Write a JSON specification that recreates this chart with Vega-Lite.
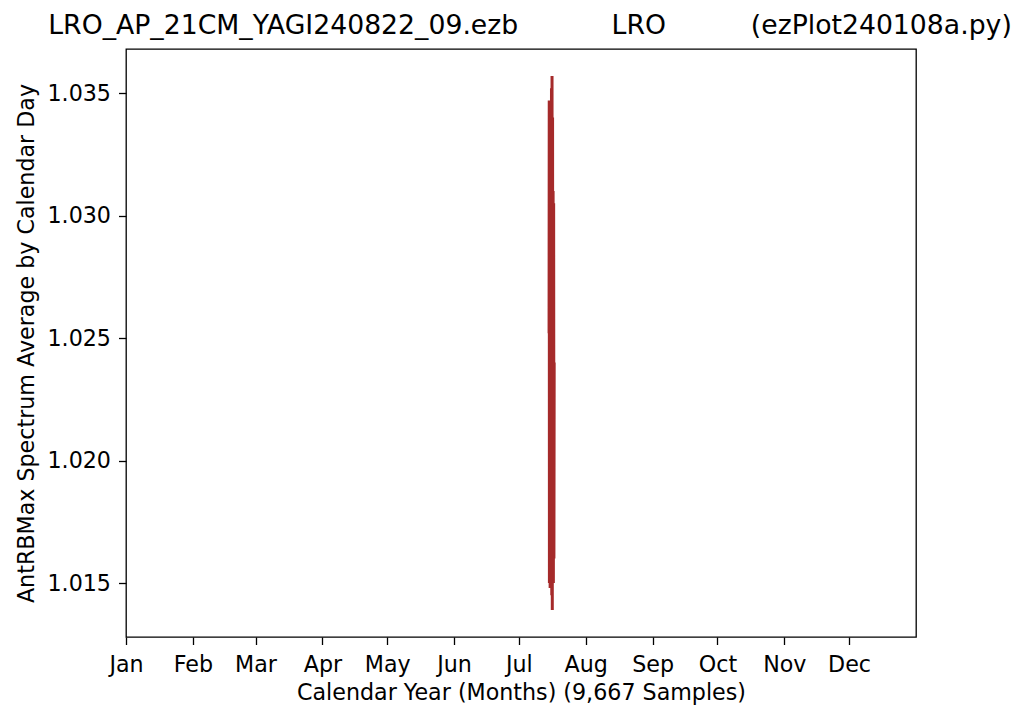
{
  "$schema": "https://vega.github.io/schema/vega-lite/v6.json",
  "autosize": "none",
  "width": 790,
  "height": 588,
  "padding": {"left": 126, "top": 49, "right": 108, "bottom": 86},
  "background": "white",
  "title": {
    "text": "LRO_AP_21CM_YAGI240822_09.ezb\u00a0\u00a0\u00a0\u00a0\u00a0\u00a0\u00a0\u00a0\u00a0\u00a0\u00a0LRO\u00a0\u00a0\u00a0\u00a0\u00a0\u00a0\u00a0\u00a0\u00a0\u00a0(ezPlot240108a.py)",
    "font": "DejaVu Sans",
    "fontSize": 26.7,
    "fontWeight": "normal",
    "color": "#000",
    "anchor": "middle",
    "dx": 9,
    "offset": 9
  },
  "config": {
    "view": {"stroke": "#000", "strokeWidth": 1.3},
    "axis": {
      "labelFont": "DejaVu Sans",
      "titleFont": "DejaVu Sans",
      "labelFontSize": 22.2,
      "titleFontSize": 22.2,
      "titleFontWeight": "normal",
      "labelColor": "#000",
      "titleColor": "#000",
      "tickColor": "#000",
      "tickSize": 7.5,
      "tickWidth": 1.3,
      "domain": false,
      "grid": false
    }
  },
  "data": {
    "values": [
      {"t": "2024-07-15T00:00:00Z", "v": 1.0252},
      {"t": "2024-07-15T02:00:00Z", "v": 1.0347},
      {"t": "2024-07-15T04:00:00Z", "v": 1.0150},
      {"t": "2024-07-15T06:00:00Z", "v": 1.0343},
      {"t": "2024-07-15T08:00:00Z", "v": 1.0155},
      {"t": "2024-07-15T10:00:00Z", "v": 1.0330},
      {"t": "2024-07-15T12:00:00Z", "v": 1.0148},
      {"t": "2024-07-15T15:00:00Z", "v": 1.0338},
      {"t": "2024-07-15T18:00:00Z", "v": 1.0158},
      {"t": "2024-07-15T21:00:00Z", "v": 1.0320},
      {"t": "2024-07-16T00:00:00Z", "v": 1.0150},
      {"t": "2024-07-16T03:00:00Z", "v": 1.0352},
      {"t": "2024-07-16T06:00:00Z", "v": 1.0145},
      {"t": "2024-07-16T09:00:00Z", "v": 1.0357},
      {"t": "2024-07-16T12:00:00Z", "v": 1.0139},
      {"t": "2024-07-16T15:00:00Z", "v": 1.0340},
      {"t": "2024-07-16T18:00:00Z", "v": 1.0152},
      {"t": "2024-07-16T21:00:00Z", "v": 1.0310},
      {"t": "2024-07-17T00:00:00Z", "v": 1.0150},
      {"t": "2024-07-17T03:00:00Z", "v": 1.0305},
      {"t": "2024-07-17T06:00:00Z", "v": 1.0160},
      {"t": "2024-07-17T09:00:00Z", "v": 1.0240}
    ]
  },
  "mark": {"type": "line", "color": "#a52a2a", "strokeWidth": 3, "clip": true},
  "encoding": {
    "x": {
      "field": "t",
      "type": "temporal",
      "scale": {"type": "utc", "domain": ["2024-01-01T00:00:00Z", "2024-12-31T23:59:00Z"]},
      "axis": {
        "title": "Calendar Year (Months) (9,667 Samples)",
        "format": "%b",
        "tickCount": {"interval": "month", "step": 1},
        "labelFlush": false,
        "labelOverlap": false,
        "labelPadding": 9,
        "titlePadding": 6
      }
    },
    "y": {
      "field": "v",
      "type": "quantitative",
      "scale": {"domain": [1.0128, 1.0368], "zero": false, "nice": false},
      "axis": {
        "title": "AntRBMax Spectrum Average by Calendar Day",
        "values": [1.015, 1.02, 1.025, 1.03, 1.035],
        "format": ".3f",
        "labelPadding": 8,
        "titlePadding": 8
      }
    }
  }
}
